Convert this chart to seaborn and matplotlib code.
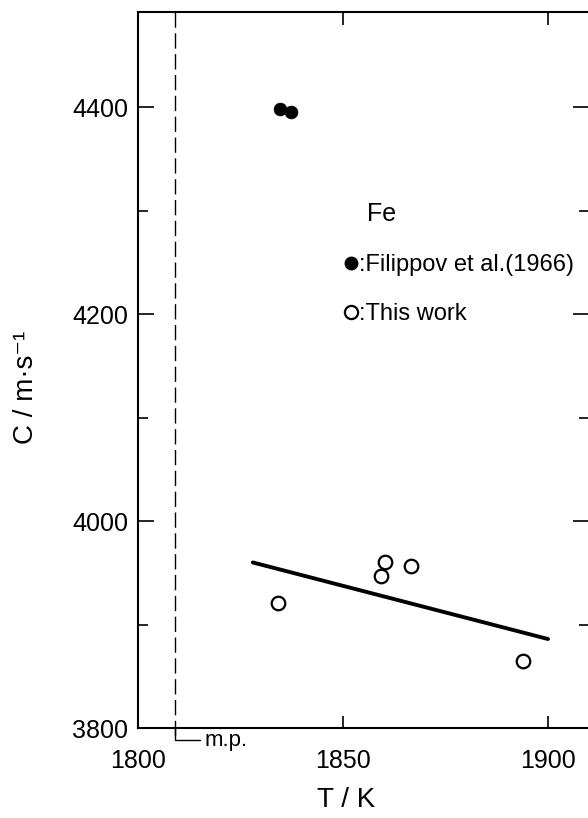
import matplotlib
matplotlib.use("Agg")
import matplotlib.pyplot as plt
from matplotlib.lines import Line2D
import seaborn as sns
import pandas as pd

# ---- data ----
filippov_T = [1834.6, 1837.3]
filippov_C = [4398.0, 4395.0]
this_T = [1834.2, 1859.3, 1860.2, 1866.5, 1894.0]
this_C = [3920.5, 3947.0, 3960.0, 3956.5, 3864.7]
fit_T = [1828.0, 1900.0]
fit_C = [3960.0, 3886.0]
mp_T = 1809.0
x_ticks = [1800, 1850, 1900]
y_ticks = [3800, 4000, 4200, 4400]
y_minor = [3900, 4100, 4300]

sns.set_theme(style="ticks")
plt.rcParams['font.family'] = ['Liberation Sans', 'DejaVu Sans']
for k in ['text.color', 'axes.labelcolor', 'xtick.color', 'ytick.color', 'axes.edgecolor']:
    plt.rcParams[k] = 'black'

fig = plt.figure(figsize=(5.88, 8.18), dpi=100)
ax = fig.add_axes([138/588, 90/818, 451/588, 716/818])

df_f = pd.DataFrame({"T": filippov_T, "C": filippov_C})
df_t = pd.DataFrame({"T": this_T, "C": this_C})
df_fit = pd.DataFrame({"T": fit_T, "C": fit_C})

sns.lineplot(data=df_fit, x="T", y="C", color="black", lw=2.8, ax=ax)
sns.scatterplot(data=df_f, x="T", y="C", marker="o", s=85, color="black",
                edgecolor="black", linewidth=0.5, ax=ax, zorder=5)
sns.scatterplot(data=df_t, x="T", y="C", marker="o", s=95, facecolor="white",
                edgecolor="black", linewidth=1.6, ax=ax, zorder=5)

ax.set_xlim(1800, 1910)
ax.set_ylim(3800, 4492)

# melting point dashed line with bracket below axis
ax.plot([mp_T, mp_T], [4492, 3788], color="black", lw=1.0,
        dashes=(11, 4), clip_on=False)
ax.plot([mp_T, mp_T, mp_T + 6.2], [3800, 3788.4, 3788.4], color="black", lw=1.0,
        clip_on=False)
ax.text(mp_T + 7.2, 3788.4, "m.p.", fontsize=16, va="center", ha="left")

ax.set_xticks(x_ticks)
ax.set_yticks(y_ticks)
ax.set_yticks(y_minor, minor=True)
ax.set_xticklabels([str(v) for v in x_ticks], fontsize=18)
ax.set_yticklabels([str(v) for v in y_ticks], fontsize=18)
ax.tick_params(axis="x", which="major", direction="in", length=9, width=1.2,
               top=True, bottom=True, pad=15, color="black")
ax.tick_params(axis="y", which="major", direction="in", length=11.5, width=1.2,
               left=True, right=True, pad=7, color="black")
ax.tick_params(axis="y", which="minor", direction="in", length=7, width=1.2,
               left=True, right=True, color="black")

for s in ["left", "bottom", "top"]:
    ax.spines[s].set_linewidth(1.5)
    ax.spines[s].set_color("black")
ax.spines["right"].set_visible(False)

ax.set_xlabel("T / K", fontsize=20)
ax.set_ylabel("C / m·s⁻¹", fontsize=20)
ax.xaxis.set_label_coords(0.461, -0.083)
ax.yaxis.set_label_coords(-0.22, 0.476)

ax.text(0.507, 0.7175, "Fe", transform=ax.transAxes, fontsize=18, va="center", ha="left")

handles = [
    Line2D([], [], marker="o", ls="none", markersize=9, markerfacecolor="black",
           markeredgecolor="black"),
    Line2D([], [], marker="o", ls="none", markersize=9.5, markerfacecolor="white",
           markeredgecolor="black", markeredgewidth=1.6),
]
leg = ax.legend(handles, [":Filippov et al.(1966)", ":This work"],
                loc="upper left", bbox_to_anchor=(0.4585, 0.662), frameon=False,
                fontsize=17, handlelength=0.55, handletextpad=0.05,
                labelspacing=1.14, borderpad=0, borderaxespad=0)

fig.savefig("out.png", dpi=100)
